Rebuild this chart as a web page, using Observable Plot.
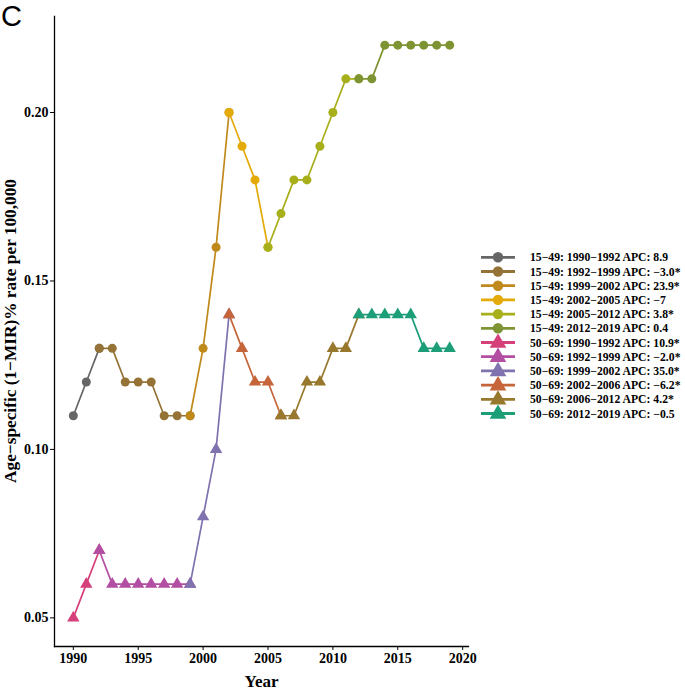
<!DOCTYPE html>
<html>
<head>
<meta charset="utf-8">
<script src="https://cdn.jsdelivr.net/npm/d3@7"></script>
<script src="https://cdn.jsdelivr.net/npm/@observablehq/plot@0.6"></script>
<style>
  html, body { margin: 0; padding: 0; background: #fff; }
  #wrap { position: relative; width: 685px; height: 689px; overflow: hidden; }
  #wrap svg { position: absolute; left: 0; top: 0; }
</style>
</head>
<body>
<div id="wrap"></div>
<script>
// ---- data ----
const years = [1990,1991,1992,1993,1994,1995,1996,1997,1998,1999,2000,2001,2002,2003,2004,2005,2006,2007,2008,2009,2010,2011,2012,2013,2014,2015,2016,2017,2018,2019];
const rate1549 = [0.11,0.12,0.13,0.13,0.12,0.12,0.12,0.11,0.11,0.11,0.13,0.16,0.20,0.19,0.18,0.16,0.17,0.18,0.18,0.19,0.20,0.21,0.21,0.21,0.22,0.22,0.22,0.22,0.22,0.22];
const rate5069 = [0.05,0.06,0.07,0.06,0.06,0.06,0.06,0.06,0.06,0.06,0.08,0.10,0.14,0.13,0.12,0.12,0.11,0.11,0.12,0.12,0.13,0.13,0.14,0.14,0.14,0.14,0.14,0.13,0.13,0.13];
const segStart1549 = [1990,1992,1999,2002,2005,2012];
const segEnd1549   = [1992,1999,2002,2005,2012,2019];
const segStart5069 = [1990,1992,1999,2002,2006,2012];
const segEnd5069   = [1992,1999,2002,2006,2012,2019];
const labels1549 = [
  "15\u221249: 1990\u22121992 APC: 8.9",
  "15\u221249: 1992\u22121999 APC: \u22123.0*",
  "15\u221249: 1999\u22122002 APC: 23.9*",
  "15\u221249: 2002\u22122005 APC: \u22127",
  "15\u221249: 2005\u22122012 APC: 3.8*",
  "15\u221249: 2012\u22122019 APC: 0.4"
];
const labels5069 = [
  "50\u221269: 1990\u22121992 APC: 10.9*",
  "50\u221269: 1992\u22121999 APC: \u22122.0*",
  "50\u221269: 1999\u22122002 APC: 35.0*",
  "50\u221269: 2002\u22122006 APC: \u22126.2*",
  "50\u221269: 2006\u22122012 APC: 4.2*",
  "50\u221269: 2012\u22122019 APC: \u22120.5"
];
const colors1549 = ["#666666","#957336","#C0891B","#E3AA08","#A7AF1A","#7E9433"];
const colors5069 = ["#D6407A","#B24FA3","#8072AE","#C6643A","#97782D","#1C9E78"];
const xTicks = [1990,1995,2000,2005,2010,2015,2020];
const yTicks = [0.05,0.10,0.15,0.20];

// ---- build rows ----
function buildRows(rates, starts, ends, labels, group) {
  const rows = [];
  labels.forEach((lab, k) => {
    years.forEach((yr, i) => {
      if (yr >= starts[k] && yr <= ends[k]) rows.push({year: yr, rate: rates[i], seg: lab, group});
    });
  });
  return rows;
}
const rowsA = buildRows(rate1549, segStart1549, segEnd1549, labels1549, "15-49");
const rowsB = buildRows(rate5069, segStart5069, segEnd5069, labels5069, "50-69");
const allLabels = labels1549.concat(labels5069);
const allColors = colors1549.concat(colors5069);

const serif = "'Liberation Serif', 'Times New Roman', serif";

const chart = Plot.plot({
  width: 685,
  height: 689,
  marginTop: 16,
  marginRight: 217,
  marginBottom: 43,
  marginLeft: 54,
  style: {fontFamily: serif, fontWeight: "bold", color: "#000", background: "transparent"},
  x: {domain: [1988.55, 2020.45]},
  y: {domain: [0.0415, 0.2285]},
  color: {domain: allLabels, range: allColors},
  marks: [
    Plot.axisX({ticks: xTicks, tickFormat: d3.format("d"), tickSize: 4, tickPadding: 3, fontSize: 14, fontWeight: "bold", label: "Year", labelAnchor: "center", labelArrow: "none", labelOffset: 40}),
    Plot.axisY({ticks: yTicks, tickFormat: d3.format(".2f"), tickSize: 4, tickPadding: 2, fontSize: 14, fontWeight: "bold", label: null}),
    Plot.frame({anchor: "bottom", strokeWidth: 1.3}),
    Plot.frame({anchor: "left", strokeWidth: 1.3}),
    Plot.line(rowsA, {x: "year", y: "rate", z: "seg", stroke: "seg", strokeWidth: 1.7}),
    Plot.line(rowsB, {x: "year", y: "rate", z: "seg", stroke: "seg", strokeWidth: 1.7}),
    Plot.dot(rowsA, {x: "year", y: "rate", fill: "seg", symbol: "circle", r: 4.5}),
    Plot.dot(rowsB, {x: "year", y: "rate", fill: "seg", symbol: "triangle", r: 4.6})
  ]
});
const wrap = document.getElementById("wrap");
wrap.appendChild(chart);

// x axis title font size tweak and y title
const svg = d3.select(chart);
svg.selectAll("[aria-label='x-axis label'] text").attr("font-size", 17);
svg.append("text")
  .attr("transform", "translate(15.5,331) rotate(-90)")
  .attr("text-anchor", "middle")
  .attr("font-family", serif)
  .attr("font-weight", "bold")
  .attr("font-size", 17.3)
  .attr("fill", "#000")
  .text("Age\u2212specific (1\u2212MIR)% rate per 100,000");

// ---- panel tag and legend ----
const leg = d3.select("#wrap").append("svg")
  .attr("width", 685).attr("height", 689)
  .style("pointer-events", "none");
leg.append("text").attr("x", 1).attr("y", 26)
  .attr("font-family", "'Liberation Sans', Arial, sans-serif").attr("font-size", 29).attr("fill", "#000")
  .text("C");
const rowY0 = 257.3, rowStep = 14.2;
allLabels.forEach((lab, i) => {
  const y = rowY0 + i * rowStep;
  const g = leg.append("g");
  g.append("line").attr("x1", 481).attr("x2", 515).attr("y1", y).attr("y2", y)
    .attr("stroke", allColors[i]).attr("stroke-width", 2.8);
  if (i < 6) {
    g.append("circle").attr("cx", 498).attr("cy", y).attr("r", 5.2).attr("fill", allColors[i]);
  } else {
    g.append("path").attr("d", d3.symbol(d3.symbolTriangle, 120)()).attr("transform", `translate(498,${y + 0.5})`).attr("fill", allColors[i]);
  }
  g.append("text").attr("x", 530).attr("y", y).attr("dy", "0.35em")
    .attr("font-family", serif).attr("font-weight", "bold").attr("font-size", 11.7).attr("fill", "#000")
    .text(lab);
});
</script>
</body>
</html>
